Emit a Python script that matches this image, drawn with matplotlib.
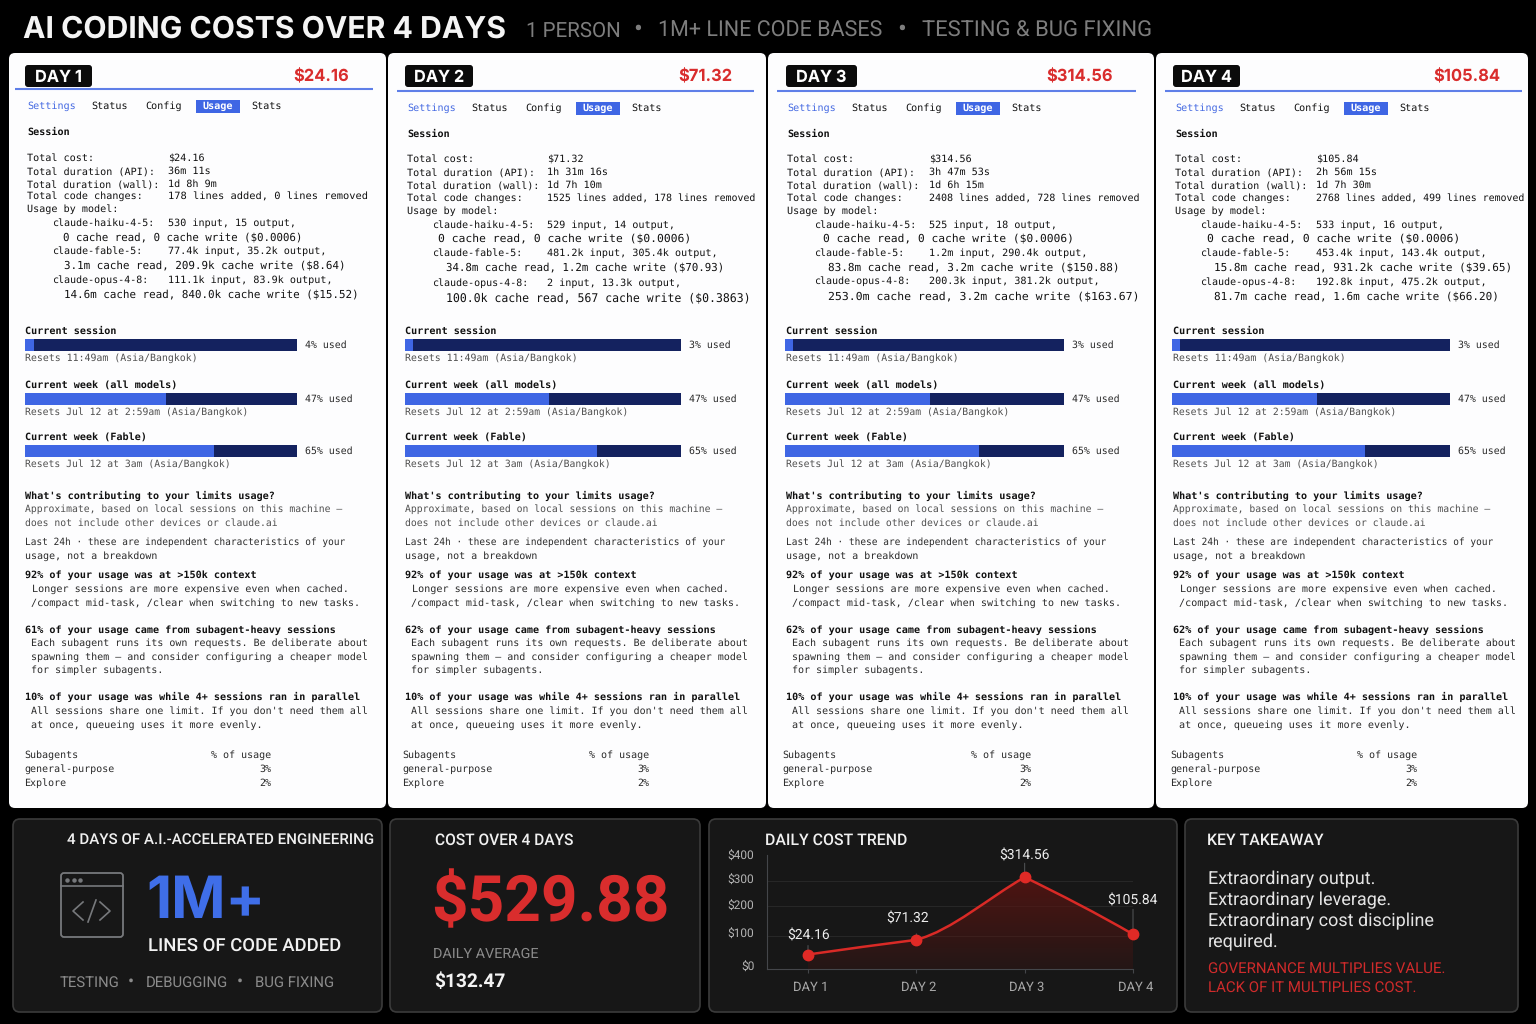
import numpy as np
import matplotlib
matplotlib.use('Agg')
import matplotlib.pyplot as plt
from matplotlib.patches import FancyBboxPatch, PathPatch, Rectangle
from matplotlib.path import Path
from matplotlib.transforms import ScaledTranslation

plt.rcParams['text.hinting'] = 'no_hinting'

# chart values
days = ['DAY 1', 'DAY 2', 'DAY 3', 'DAY 4']
costs = [24.16, 71.32, 314.56, 105.84]
total_cost = '$529.88'
daily_average = '$132.47'
y_ticks = [0, 100, 200, 300, 400]
y_tick_labels = ['$0', '$100', '$200', '$300', '$400']
# the drawn axis is not evenly spaced: value -> height in pixels above the baseline
scale_values = [0, 25, 70, 100, 200, 300, 400]
scale_heights = [0, 15, 29, 33, 63, 88, 114]

api_time = ['36m 11s', '1h 31m 16s', '3h 47m 53s', '2h 56m 15s']
wall_time = ['1d 8h 9m', '1d 7h 10m', '1d 6h 15m', '1d 7h 30m']
code_changes = ['178 lines added, 0 lines removed', '1525 lines added, 178 lines removed',
                '2408 lines added, 728 lines removed', '2768 lines added, 499 lines removed']
haiku_a = ['530 input, 15 output,', '529 input, 14 output,', '525 input, 18 output,', '533 input, 16 output,']
haiku_b = ['0 cache read, 0 cache write ($0.0006)'] * 4
fable_a = ['77.4k input, 35.2k output,', '481.2k input, 305.4k output,',
           '1.2m input, 290.4k output,', '453.4k input, 143.4k output,']
fable_b = ['3.1m cache read, 209.9k cache write ($8.64)', '34.8m cache read, 1.2m cache write ($70.93)',
           '83.8m cache read, 3.2m cache write ($150.88)', '15.8m cache read, 931.2k cache write ($39.65)']
opus_a = ['111.1k input, 83.9k output,', '2 input, 13.3k output,',
          '200.3k input, 381.2k output,', '192.8k input, 475.2k output,']
opus_b = ['14.6m cache read, 840.0k cache write ($15.52)', '100.0k cache read, 567 cache write ($0.3863)',
          '253.0m cache read, 3.2m cache write ($163.67)', '81.7m cache read, 1.6m cache write ($66.20)']
session_used = [4, 3, 3, 3]
week_used = 47
fable_used = 65
# how far the bars are actually filled in the picture, percent
session_fill = [3.3, 3, 3, 3]
week_fill = 52
fable_fill = 69.5
subagent_share = [61, 62, 62, 62]

BLUE = '#3f66e4'
NAVY = '#14225f'
RED = '#d92d2d'
INK = '#111111'
GREY = '#505050'
SOFT = '#2a2a2a'
MONO = 'DejaVu Sans Mono'
SANS = 'Inter'

# layout, in pixels of the 1536x1024 picture
card_x0 = [9, 388, 768, 1156]
card_x1 = [386, 766, 1154, 1528]
badge_x = [(25, 92), (405, 473), (786, 857), (1173, 1240)]
cost_right = [349, 732, 1113, 1500]
rule_x = [(15, 373), (397, 754), (777, 1136), (1165, 1522)]
rule_y = [89, 91, 91, 91]
tab_x = [27, 407, 787, 1175]
tab_y = [106, 108, 108, 108]
val_x = [168, 547, 929, 1316]
model_x = [52, 432, 814, 1200]
cache_x = [(63, 64), (438, 446), (823, 828), (1207, 1214)]
change_end = [369, 756, 1141, 1525]
haiku_end = [303, 691, 1075, 1460]
fable_end = [346, 723, 1120, 1512]
opus_end = [358, 751, 1139, 1500]
rows = [[132, 158, 171, 184, 196, 209, 223, 237, 251, 265, 280, 294],
        [134, 159, 172, 185, 198, 211, 225, 238, 253, 267, 283, 297],
        [134, 159, 172, 185, 198, 211, 225, 238, 253, 267, 281, 296],
        [134, 159, 172, 185, 198, 211, 225, 238, 253, 267, 282, 296]]
bar_x = [(25, 297), (405, 681), (785, 1064), (1172, 1450)]
low_x = [25, 405, 786, 1173]
sub_x = [(24, 271), (402, 649), (782, 1031), (1170, 1417)]


fig = plt.figure(figsize=(15.36, 10.24), dpi=100, facecolor='#000000')
ax = fig.add_axes([0, 0, 1, 1])
ax.set_xlim(0, 1536)
ax.set_ylim(1024, 0)
ax.axis('off')


def txt(x, y, s, size=7.3, color=INK, weight='normal', family=MONO, ha='left', **kwargs):
    # centre of the caps, not of the text box
    shift = {MONO: 0.4, SANS: size * 0.15, 'Roboto': size * 0.13}[family]
    return ax.text(x, y + shift, s, fontsize=size, color=color, fontweight=weight, family=family,
                   ha=ha, va='center', **kwargs)


def fit(x, y, s, x_end, **kwargs):
    # monospace line that has to run from x to x_end
    size = (x_end - x) / len(s) / (0.602 * 100 / 72)
    return txt(x, y, s, size=size, **kwargs)


def box(x0, y0, x1, y1, radius, face, edge='none', lw=0.0):
    patch = FancyBboxPatch((x0, y0), x1 - x0, y1 - y0, boxstyle='round,pad=0,rounding_size=%s' % radius,
                           facecolor=face, edgecolor=edge, linewidth=lw)
    ax.add_patch(patch)
    return patch


def usage_bar(i, y, fill, label):
    x0, x1 = bar_x[i]
    w = x1 - x0
    ax.barh(y, w, left=x0, height=12, color=NAVY)
    ax.barh(y, w * fill / 100, left=x0, height=12, color=BLUE)
    txt(x1 + 8, y, '%d%% used' % label, size=7.1, color=SOFT)


def draw_card(i):
    box(card_x0[i], 53, card_x1[i], 808, 6, '#fdfdfe')
    bx0, bx1 = badge_x[i]
    box(bx0, 65, bx1, 87, 3, '#0b0b0b')
    txt((bx0 + bx1) / 2, 76, days[i], size=11.8, color='white', weight='bold', family=SANS, ha='center')
    txt(cost_right[i], 75, '$%.2f' % costs[i], size=11.9, color=RED, weight='bold', family=SANS, ha='right')
    ax.plot(rule_x[i], [rule_y[i]] * 2, color='#5f7fe8', lw=1.5, solid_capstyle='butt')

    t = tab_x[i]
    ty = tab_y[i]
    txt(t, ty, 'Settings', color='#4469e2')
    txt(t + 64.5, ty, 'Status')
    txt(t + 118.5, ty, 'Config')
    ax.add_patch(Rectangle((t + 169, ty - 6.5), 44, 13, color=BLUE, lw=0))
    txt(t + 191, ty, 'Usage', color='white', weight='bold', ha='center')
    txt(t + 224, ty, 'Stats')

    r = rows[i]
    left = tab_x[i]
    txt(left, r[0], 'Session', weight='bold')
    txt(left, r[1], 'Total cost:')
    txt(left, r[2], 'Total duration (API):')
    txt(left, r[3], 'Total duration (wall):', size=7.2)
    txt(left, r[4], 'Total code changes:')
    txt(left, r[5], 'Usage by model:')
    txt(val_x[i], r[1], '$%.2f' % costs[i])
    txt(val_x[i], r[2], api_time[i])
    txt(val_x[i], r[3], wall_time[i])
    fit(val_x[i], r[4], code_changes[i], change_end[i])
    txt(model_x[i], r[6], 'claude-haiku-4-5:', size=7.2)
    txt(val_x[i], r[6], haiku_a[i])
    fit(cache_x[i][0], r[7], haiku_b[i], haiku_end[i])
    txt(model_x[i], r[8], 'claude-fable-5:', size=7.2)
    txt(val_x[i], r[8], fable_a[i])
    fit(cache_x[i][1], r[9], fable_b[i], fable_end[i])
    txt(model_x[i], r[10], 'claude-opus-4-8:', size=7.2)
    txt(val_x[i], r[10], opus_a[i])
    fit(cache_x[i][1], r[11], opus_b[i], opus_end[i])

    x = low_x[i]
    txt(x, 331, 'Current session', weight='bold')
    usage_bar(i, 345, session_fill[i], session_used[i])
    txt(x, 358, 'Resets 11:49am (Asia/Bangkok)', size=7.1, color=GREY)
    txt(x, 385, 'Current week (all models)', weight='bold')
    usage_bar(i, 398.5, week_fill, week_used)
    txt(x, 411.5, 'Resets Jul 12 at 2:59am (Asia/Bangkok)', size=7.05, color=GREY)
    txt(x, 437, 'Current week (Fable)', weight='bold')
    usage_bar(i, 450.5, fable_fill, fable_used)
    txt(x, 463.5, 'Resets Jul 12 at 3am (Asia/Bangkok)', size=7.05, color=GREY)

    txt(x, 495, "What's contributing to your limits usage?", weight='bold')
    txt(x, 509, 'Approximate, based on local sessions on this machine \u2013', size=7.05, color=GREY)
    txt(x, 523, 'does not include other devices or claude.ai', size=7.0, color=GREY)
    txt(x, 542, 'Last 24h \u00b7 these are independent characteristics of your', size=6.85, color=SOFT)
    txt(x, 556, 'usage, not a breakdown', size=7.2, color=SOFT)
    txt(x, 575, '92% of your usage was at >150k context', weight='bold')
    txt(x + 7, 589, 'Longer sessions are more expensive even when cached.', color=SOFT)
    txt(x + 6, 603, '/compact mid-task, /clear when switching to new tasks.', color=SOFT)
    txt(x, 629, '%d%% of your usage came from subagent-heavy sessions' % subagent_share[i], weight='bold')
    txt(x + 6, 643, 'Each subagent runs its own requests. Be deliberate about', size=7.2, color=SOFT)
    txt(x + 6, 657, 'spawning them \u2013 and consider configuring a cheaper model', size=7.2, color=SOFT)
    txt(x + 6, 670, 'for simpler subagents.', size=7.2, color=SOFT)
    txt(x, 696, '10% of your usage was while 4+ sessions ran in parallel', weight='bold')
    txt(x + 6, 711, "All sessions share one limit. If you don't need them all", size=7.2, color=SOFT)
    txt(x + 6, 725, 'at once, queueing uses it more evenly.', color=SOFT)

    sx0, sx1 = sub_x[i]
    txt(sx0, 755, 'Subagents', size=7.2, color=SOFT)
    txt(sx1, 755, '% of usage', size=7.2, color=SOFT, ha='right')
    txt(sx0, 769, 'general-purpose', size=7.2, color=SOFT)
    txt(sx1, 769, '3%', size=7.2, color=SOFT, ha='right')
    txt(sx0, 783, 'Explore', size=7.2, color=SOFT)
    txt(sx1, 783, '2%', size=7.2, color=SOFT, ha='right')


def draw_header():
    txt(23, 27, 'AI CODING COSTS OVER 4 DAYS', size=21.7, color='#f4f4f4', weight='bold', family=SANS)
    txt(526, 29, '1 PERSON', size=14.8, color='#7d7d7d', family='Roboto')
    txt(638, 27, '\u2022', size=19, color='#7d7d7d', family='Roboto', ha='center')
    txt(658, 29, '1M+ LINE CODE BASES', size=15.5, color='#7d7d7d', family='Roboto')
    txt(902, 27, '\u2022', size=19, color='#7d7d7d', family='Roboto', ha='center')
    txt(922, 29, 'TESTING & BUG FIXING', size=15.85, color='#7d7d7d', family='Roboto')


def draw_panels():
    face = '#171717'
    edge = '#3b3b3b'
    box(13, 819, 382, 1012, 7, face, edge, 1.2)
    box(390, 819, 700, 1012, 7, face, edge, 1.2)
    box(709, 819, 1177, 1012, 7, face, edge, 1.2)
    box(1185, 819, 1518, 1012, 7, face, edge, 1.2)

    # left panel
    txt(67, 838, '4 DAYS OF A.I.-ACCELERATED ENGINEERING', size=10.9, color='#f0f0f0', weight='medium', family='Roboto')
    box(61, 873, 123, 937, 3, 'none', '#77797c', 1.3)
    ax.plot([61, 123], [886, 886], color='#77797c', lw=1.2)
    ax.plot([67, 73.5, 80], [880, 880, 880], 'o', ms=2.2, color='#77797c')
    ax.plot([83, 73, 83], [902, 911, 920], color='#77797c', lw=1.2)
    ax.plot([100, 110, 100], [902, 911, 920], color='#77797c', lw=1.2)
    ax.plot([96, 88], [900, 922], color='#77797c', lw=1.2)
    txt(146, 896, '1M+', size=42, color='#3f6ee8', weight='bold', family=SANS)
    txt(148, 945, 'LINES OF CODE ADDED', size=13.3, color='#f2f2f2', weight='medium', family='Roboto')
    txt(60, 981, 'TESTING', size=10.7, color='#8b8b8b', family='Roboto')
    txt(131, 980, '\u2022', size=13, color='#8b8b8b', family='Roboto', ha='center')
    txt(146, 981, 'DEBUGGING', size=10.7, color='#8b8b8b', family='Roboto')
    txt(240, 980, '\u2022', size=13, color='#8b8b8b', family='Roboto', ha='center')
    txt(255, 981, 'BUG FIXING', size=10.7, color='#8b8b8b', family='Roboto')

    # total cost panel
    txt(435, 839, 'COST OVER 4 DAYS', size=11.2, color='#f0f0f0', weight='medium', family='Roboto')
    txt(431, 898, total_cost, size=46, color=RED, weight='bold', family='Roboto')
    txt(433, 953, 'DAILY AVERAGE', size=10.4, color='#8b8b8b', family='Roboto')
    txt(434, 980, daily_average, size=13.8, color='#f4f4f4', weight='bold', family='Roboto')

    # takeaway panel
    txt(1207, 839, 'KEY TAKEAWAY', size=11.4, color='#f0f0f0', weight='medium', family='Roboto')
    for y, line in zip([878, 899, 920, 941], ['Extraordinary output.', 'Extraordinary leverage.',
                                              'Extraordinary cost discipline', 'required.']):
        txt(1208, y, line, size=13, color='#e4e4e4', family='Roboto')
    txt(1208, 967, 'GOVERNANCE MULTIPLIES VALUE.', size=10.85, color='#cf2b2b', family='Roboto')
    txt(1208, 986, 'LACK OF IT MULTIPLIES COST.', size=10.85, color='#cf2b2b', family='Roboto')


def curve_path(x, y):
    # cubic segments through the points, a sharp corner kept at the peak
    secant = np.diff(y) / np.diff(x)
    verts = [(x[0], y[0])]
    for k in range(len(x) - 1):
        start = secant[k]
        if k > 0 and secant[k - 1] * secant[k] > 0:
            start = (secant[k - 1] + secant[k]) / 2
        end = secant[k]
        verts.append((x[k] + 1 / 3, y[k] + start / 3))
        verts.append((x[k + 1] - 1 / 3, y[k + 1] - end / 3))
        verts.append((x[k + 1], y[k + 1]))
    return verts


def draw_trend():
    # axes box runs from px 767 to 1133 across, 855 to 969 down
    chart = fig.add_axes([767 / 1536, 1 - 969 / 1024, 366 / 1536, 114 / 1024])
    chart.patch.set_visible(False)
    x = np.arange(len(days), dtype=float)
    y = np.array(costs)

    chart.set_yscale('function', functions=(lambda v: np.interp(v, scale_values, scale_heights),
                                            lambda v: np.interp(v, scale_heights, scale_values)))
    chart.set_xlim(-41 / 108.3, 3)
    chart.set_ylim(0, 400)
    chart.set_xticks(x)
    chart.set_xticklabels(days)
    chart.set_yticks(y_ticks)
    chart.set_yticklabels(y_tick_labels)
    chart.minorticks_off()
    chart.tick_params(axis='x', length=3, color='#44464a', pad=6, labelsize=9.4, labelcolor='#a9a9a9')
    chart.tick_params(axis='y', length=0, pad=9, labelsize=8.6, labelcolor='#b4b4b4')
    # labels sit a little off their ticks in the reference
    for label in chart.get_xticklabels():
        label.set_family('Roboto')
        label.set_transform(label.get_transform() + ScaledTranslation(2.5 / 100, 0, fig.dpi_scale_trans))
    for label, nudge in zip(chart.get_yticklabels(), [3, 3, 1, 2, 0]):
        label.set_family('Roboto')
        label.set_transform(label.get_transform() + ScaledTranslation(0, nudge / 100, fig.dpi_scale_trans))
    for side in ['top', 'right']:
        chart.spines[side].set_visible(False)
    for side in ['left', 'bottom']:
        chart.spines[side].set_color('#44464a')
    chart.grid(axis='y', color='#272727', lw=0.8)
    chart.yaxis.get_gridlines()[-1].set_visible(False)
    chart.set_axisbelow(True)

    verts = curve_path(x, y)
    codes = [Path.MOVETO] + [Path.CURVE4] * (len(verts) - 1)
    area = Path(verts + [(x[-1], 0), (x[0], 0), (x[0], y[0])],
                codes + [Path.LINETO, Path.LINETO, Path.CLOSEPOLY])
    clip = PathPatch(area, facecolor='none', edgecolor='none')
    chart.add_patch(clip)

    shade = np.zeros((64, 2, 4))
    shade[:, :, 0] = 0.36
    shade[:, :, 1] = 0.08
    shade[:, :, 2] = 0.07
    shade[:, :, 3] = np.linspace(0.95, 0.2, 64)[:, None]
    img = chart.imshow(shade, extent=(0, 1, 0, 1), transform=chart.transAxes, aspect='auto', zorder=1)
    img.set_clip_path(clip)
    chart.set_xlim(-41 / 108.3, 3)
    chart.set_ylim(0, 400)

    chart.add_patch(PathPatch(Path(verts, codes), facecolor='none', edgecolor='#d92a26', lw=1.8, zorder=3,
                              clip_on=False))
    chart.plot(x, y, 'o', ms=7.5, color='#e02a26', zorder=4, clip_on=False)

    # label offsets from the point, in pixels; leader is how far the thin line rises
    offsets = [(1, 20), (-9, 22), (0, 22), (-1, 34)]
    leaders = [9, 6, 14, 25]
    for xi, yi, (dx, dy), lead in zip(x, y, offsets, leaders):
        chart.annotate('', xy=(xi, yi), xytext=(0, lead * 0.72), textcoords='offset points',
                       arrowprops=dict(arrowstyle='-', color='#55575a', lw=0.7, shrinkA=0, shrinkB=0),
                       annotation_clip=False, zorder=2)
        chart.annotate('$%.2f' % yi, xy=(xi, yi), xytext=(dx * 0.72, dy * 0.72), textcoords='offset points',
                       ha='center', va='center', fontsize=10, color='#ededed', family='Roboto',
                       annotation_clip=False, zorder=5)
    txt(765, 839, 'DAILY COST TREND', size=11.4, color='#f0f0f0', weight='medium', family='Roboto')


def main():
    draw_header()
    for i in range(len(days)):
        draw_card(i)
    draw_panels()
    draw_trend()
    fig.savefig('out.png', dpi=100, facecolor=fig.get_facecolor())


if __name__ == "__main__":
    main()
